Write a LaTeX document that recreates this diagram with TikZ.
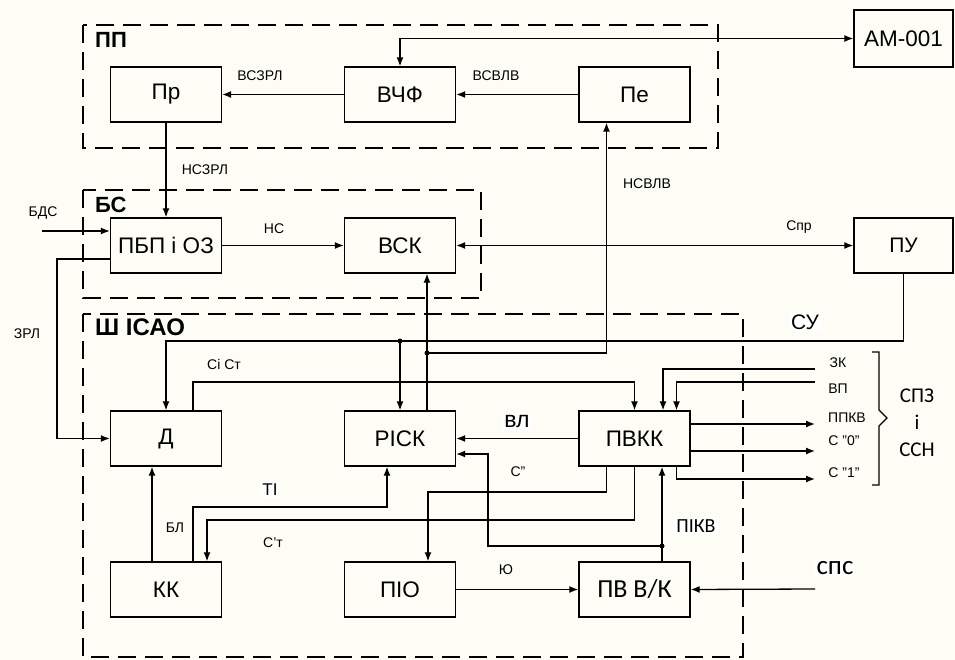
\documentclass[tikz,border=0pt]{standalone}
\usepackage{fontspec}
\setmainfont{Liberation Sans}
\newfontfamily\calfont{Carlito}
\usetikzlibrary{arrows.meta}
\definecolor{paper}{RGB}{253,253,245}

\tikzset{
  blk/.style={draw, line width=1.4pt, minimum width=111pt, minimum height=55pt, inner sep=0pt, font=\fontsize{22.5}{24}\selectfont},
  grp/.style={line width=2.8pt, dash pattern=on 18pt off 9pt},
  grplbl/.style={anchor=west, inner sep=0pt, font=\bfseries\fontsize{22}{24}\selectfont},
  sig/.style={line width=1.3pt, -{Latex[length=9pt,width=7pt]}},
  sigb/.style={line width=1.3pt, {Latex[length=9pt,width=7pt]}-{Latex[length=9pt,width=7pt]}},
  lbl/.style={inner sep=1pt, font=\fontsize{14}{16}\selectfont},
  big/.style={inner sep=2pt, fill=white},
  dot/.style={circle, fill, inner sep=0pt, minimum size=5pt}
}

\begin{document}
\begin{tikzpicture}[x=1pt, y=-1pt]
    \useasboundingbox (0,0) rectangle (955,660);
    \fill[paper] (0,0) rectangle (955,660);

    % Dashed groups
    \draw[grp] (83,25) rectangle (718,148);
    \draw[grp] (83,190) rectangle (481,298);
    \draw[grp] (83,314) rectangle (743,657);
    \node[grplbl] (gpp) at (95,40) {ПП};
    \node[grplbl] (gbs) at (95,205) {БС};
    \node[grplbl, font=\bfseries\fontsize{24}{26}\selectfont] (gsh) at (95,327) {Ш ІСАО};

    % Blocks
    \node[blk] (pr) at (166,94.5) {Пр};
    \node[blk] (vchf) at (400,94.5) {ВЧФ};
    \node[blk] (pe) at (634.5,94.5) {Пе};
    \node[blk, minimum width=99pt, minimum height=57pt] (am) at (903.5,38.5) {АМ-001};
    \node[blk] (pbp) at (166,245.5) {ПБП і ОЗ};
    \node[blk] (vsk) at (400,245.5) {ВСК};
    \node[blk, minimum width=99pt, font=\fontsize{21}{23}\selectfont] (pu) at (903.5,245.5) {ПУ};
    \node[blk] (d) at (166,438.5) {Д};
    \node[blk] (risk) at (400,438.5) {РІСК};
    \node[blk] (pvkk) at (634.5,438.5) {ПВКК};
    \node[blk] (kk) at (166,589.5) {КК};
    \node[blk] (pio) at (400,589.5) {ПІО};
    \node[blk, font=\calfont\fontsize{26}{28}\selectfont] (pvvk) at (634.5,589.5) {ПВ В/К};

    % Free ends and bends
    \coordinate (bds) at (42,231);
    \coordinate (zrl) at (57,259);
    \coordinate (su) at (400,341);
    \coordinate (nsvlv) at (427,353);
    \coordinate (cic) at (634.5,382);
    \coordinate (cs) at (488,454);
    \coordinate (pikv) at (662,546);
    \coordinate (io) at (428,492);
    \coordinate (ct) at (207,520);
    \coordinate (ti) at (387,507);
    \coordinate (sps) at (815,589);

    % ПП
    \draw[sig] (vchf.west) -- (pr.east);
    \draw[sig] (pe.west) -- (vchf.east);
    \draw[sigb] (vchf.north) |- (am.west);

    % БС
    \draw[sig] (pr.south) -- (pbp.north);
    \draw[sig] (bds) -- (bds -| pbp.west);
    \draw[sig] (pbp.east) -- (vsk.west);
    \draw[sigb] (vsk.east) -- (pu.west);
    \draw[sig] (zrl -| pbp.west) -- (zrl) |- (d.west);

    % Ш ІСАО
    \draw[sig] ([xshift=27pt]risk.north) -- ([xshift=27pt]vsk.south);
    \draw[sig] (nsvlv) -| ([xshift=-28pt]pe.south);
    \draw[sig] (pu.south) |- (su) -| (d.north);
    \draw[sig] (su) -- (risk.north);
    \draw[sig] ([xshift=27pt]d.north) |- (cic) -- (pvkk.north);
    \foreach \name/\y/\dx in {zk/369/28.5, vp/382/42} {
        \coordinate (\name) at (815,\y);
        \draw[sig] (\name) -| ([xshift=\dx pt]pvkk.north);
    }
    \foreach \name/\y in {ppkv/424, czero/451} {
        \coordinate (\name) at (815,\y);
        \draw[sig] (\name -| pvkk.east) -- (\name);
    }
    \coordinate (cone) at (815,479);
    \draw[sig] ([xshift=42pt]pvkk.south) |- (cone);
    \draw[sig] (pvkk.west) -- (risk.east);
    \draw[sig] (pikv) -| (cs) -- (cs -| risk.east);
    \draw[sig] (pikv |- pvvk.north) -- (pikv |- pvkk.south);
    \draw[sig] ([xshift=-28pt]pvkk.south) |- (io) -- (io |- pio.north);
    \draw[sig] (pvkk.south) |- (ct) -- (ct |- kk.north);
    \draw[sig] ([xshift=27pt]kk.north) |- (ti) -- (ti |- risk.south);
    \draw[sig] ([xshift=-14pt]kk.north) -- ([xshift=-14pt]d.south);
    \draw[sig] (pio.east) -- (pvvk.west);
    \draw[sig] (sps) -- (pvvk.east);

    % Junctions
    \node[dot] (dsu) at (su) {};
    \node[dot] (dnsvlv) at (nsvlv) {};
    \node[dot] (dpikv) at (pikv) {};

    % Brace
    \draw[line width=1.3pt] (872,352) -- (879,352) -- (879,410) -- (887,418) -- (879,426) -- (879,485) -- (872,485);

    % Signal labels
    \node[lbl] (tvszrl) at (260,76) {ВСЗРЛ};
    \node[lbl] (tvsvlv) at (496,76) {ВСВЛВ};
    \node[lbl] (tnszrl) at (205,170) {НСЗРЛ};
    \node[lbl] (tnsvlv) at (647,184) {НСВЛВ};
    \node[lbl] (tbds) at (43,213) {БДС};
    \node[lbl] (tns) at (274,229) {НС};
    \node[lbl] (tspr) at (799,227) {Спр};
    \node[lbl] (tzrl) at (27,334) {ЗРЛ};
    \node[lbl] (tcict) at (224,364) {Сі Ст};
    \node[lbl] (tzk) at (838,363) {ЗК};
    \node[lbl] (tvp) at (838,389) {ВП};
    \node[lbl] (tppkv) at (847,418) {ППКВ};
    \node[lbl] (tczero) at (844,441) {С "0"};
    \node[lbl] (tcone) at (844,473) {С "1"};
    \node[lbl] (tcs) at (518,472) {С"};
    \node[lbl] (tbl) at (175,528) {БЛ};
    \node[lbl] (tct) at (273,543) {С’т};
    \node[lbl] (tio) at (506,570) {Ю};
    \node[big, font=\fontsize{21}{23}\selectfont] (tsu) at (805,322) {СУ};
    \node[big, font=\fontsize{17}{19}\selectfont] (tti) at (270,490) {ТІ};
    \node[big, font=\fontsize{23}{25}\selectfont] (tvl) at (517,422) {вл};
    \node[big, font=\calfont\fontsize{20}{22}\selectfont] (tpikv) at (696,526) {ПІКВ};
    \node[big, font=\calfont\fontsize{27}{29}\selectfont] (tsps) at (835,568) {спс};
    \node[align=center, font=\calfont\fontsize{21}{27}\selectfont] (tspz) at (917,423) {СПЗ\\і\\ССН};
\end{tikzpicture}
\end{document}
